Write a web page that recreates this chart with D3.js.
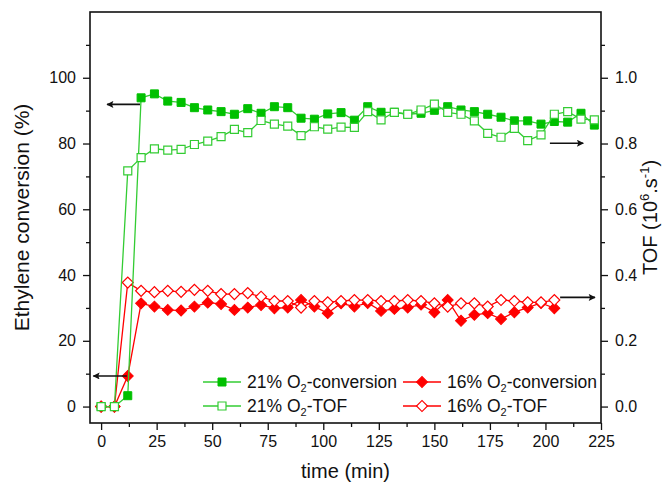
<!DOCTYPE html>
<html>
<head>
<meta charset="utf-8">
<script src="https://cdn.jsdelivr.net/npm/d3@7"></script>
<style>
  body { margin: 0; background: #fff; }
  svg text { font-family: "Liberation Sans", Arial, sans-serif; fill: #111; }
</style>
</head>
<body>
<script>
// time points (min)
var time21 = [0,6,12,18,24,30,36,42,48,54,60,66,72,78,84,90,96,102,108,114,120,126,132,138,144,150,156,162,168,174,180,186,192,198,204,210,216,222];
var time16 = [0,6,12,18,24,30,36,42,48,54,60,66,72,78,84,90,96,102,108,114,120,126,132,138,144,150,156,162,168,174,180,186,192,198,204];

// ethylene conversion (%)
var conv21 = [0,0,3.3,93.9,95.1,92.9,92.5,90.9,90.2,89.7,88.9,90.6,89.2,91.2,90.9,87.7,87.4,89.0,89.4,87.1,91.2,89.5,89.5,88.9,89.2,90.1,91.2,90.2,89.7,88.9,88.0,86.9,86.9,85.9,86.7,86.5,89.2,85.6];
var conv16 = [0,0,9.3,31.4,30.4,29.4,29.2,30.4,31.6,31.2,29.4,30.1,30.9,29.9,30.1,32.4,30.4,28.4,31.4,30.4,31.5,29.1,29.7,30.1,31.0,28.7,32.4,26.1,27.9,28.4,26.6,28.7,30.1,31.5,29.9];

// TOF (10^6 s^-1)
var tof21 = [0,0,0.717,0.757,0.784,0.780,0.782,0.797,0.807,0.821,0.843,0.833,0.870,0.859,0.853,0.824,0.851,0.844,0.850,0.849,0.897,0.872,0.895,0.889,0.902,0.920,0.895,0.889,0.869,0.831,0.819,0.846,0.809,0.826,0.889,0.897,0.874,0.872];
var tof16 = [0,0,0.377,0.352,0.348,0.352,0.349,0.355,0.352,0.342,0.342,0.345,0.334,0.321,0.321,0.301,0.321,0.317,0.321,0.324,0.324,0.321,0.321,0.324,0.321,0.314,0.304,0.314,0.314,0.304,0.324,0.321,0.317,0.317,0.324];

var xTicks = [0,25,50,75,100,125,150,175,200,225];
var yTicks = [0,20,40,60,80,100];
var y2Ticks = [0,0.2,0.4,0.6,0.8,1.0];

var W = 668, H = 488;
var pL = 90, pR = 601, pT = 12, pB = 423;

var green = "#00c000", greenLight = "#33cc33", red = "#ff0000";

var svg = d3.select("body").append("svg")
    .attr("width", W)
    .attr("height", H);

var x = d3.scaleLinear().domain([-5, 225]).range([pL, pR]);
var y = d3.scaleLinear().domain([-5, 120]).range([pB, pT]);
var y2 = d3.scaleLinear().domain([-0.05, 1.2]).range([pB, pT]);

svg.append("rect")
    .attr("x", pL).attr("y", pT)
    .attr("width", pR - pL).attr("height", pB - pT)
    .attr("fill", "#fff");

// axes
var minorX = d3.range(12.5, 225, 25);
var minorY = d3.range(10, 120, 20);
var minorY2 = d3.range(0.1, 1.2, 0.2);

function styleAxis(g) {
    g.select(".domain").remove();
    g.selectAll("line").attr("stroke", "#111").attr("stroke-width", 1.3);
    g.selectAll("text").attr("font-size", 16).attr("fill", "#111")
        .attr("font-family", "'Liberation Sans', Arial, sans-serif");
}

svg.append("g").attr("transform", "translate(0," + pB + ")")
    .call(d3.axisBottom(x).tickValues(minorX).tickSize(4).tickFormat(""))
    .call(styleAxis);
svg.append("g").attr("transform", "translate(0," + pB + ")")
    .call(d3.axisBottom(x).tickValues(xTicks).tickSize(7).tickPadding(6).tickFormat(d3.format("d")))
    .call(styleAxis);

svg.append("g").attr("transform", "translate(" + pL + ",0)")
    .call(d3.axisLeft(y).tickValues(minorY).tickSize(4).tickFormat(""))
    .call(styleAxis);
svg.append("g").attr("transform", "translate(" + pL + ",0)")
    .call(d3.axisLeft(y).tickValues(yTicks).tickSize(7).tickPadding(7).tickFormat(d3.format("d")))
    .call(styleAxis);

svg.append("g").attr("transform", "translate(" + pR + ",0)")
    .call(d3.axisRight(y2).tickValues(minorY2).tickSize(4).tickFormat(""))
    .call(styleAxis);
svg.append("g").attr("transform", "translate(" + pR + ",0)")
    .call(d3.axisRight(y2).tickValues(y2Ticks).tickSize(7).tickPadding(7).tickFormat(d3.format(".1f")))
    .call(styleAxis);

// frame
svg.append("rect")
    .attr("x", pL).attr("y", pT)
    .attr("width", pR - pL).attr("height", pB - pT)
    .attr("fill", "none").attr("stroke", "#111").attr("stroke-width", 1.6);

// series
var sq = d3.symbol().type(d3.symbolSquare).size(64);
var dia = d3.symbol().type(d3.symbolSquare).size(60);

function drawSeries(times, vals, yScale, color, lineColor, shape, filled, rot) {
    var pts = times.map(function(t, i) { return [x(t), yScale(vals[i])]; });
    svg.append("path")
        .attr("d", d3.line()(pts))
        .attr("fill", "none")
        .attr("stroke", lineColor)
        .attr("stroke-width", 1.3);
    svg.append("g").selectAll("path")
        .data(pts)
        .enter().append("path")
        .attr("d", shape)
        .attr("transform", function(d) { return "translate(" + d[0] + "," + d[1] + ") rotate(" + rot + ")"; })
        .attr("fill", filled ? color : "#fff")
        .attr("stroke", color)
        .attr("stroke-width", filled ? 1 : 1.2);
}

drawSeries(time16, conv16, y, red, red, dia, true, 45);
drawSeries(time16, tof16, y2, red, red, dia, false, 45);
drawSeries(time21, conv21, y, green, greenLight, sq, true, 0);
drawSeries(time21, tof21, y2, greenLight, greenLight, sq, false, 0);

// arrows pointing at the axis each series belongs to
svg.append("defs").append("marker")
    .attr("id", "head")
    .attr("viewBox", "0 0 10 10")
    .attr("refX", 9).attr("refY", 5)
    .attr("markerWidth", 11).attr("markerHeight", 7)
    .attr("markerUnits", "userSpaceOnUse")
    .attr("orient", "auto")
    .append("path")
    .attr("d", "M0,0 L10,5 L0,10 L2,5 z")
    .attr("fill", "#111");

var arrows = [
    {x1: 17.5, x2: 2.7, v: 91.9, s: y},
    {x1: 11.6, x2: -3.5, v: 9.3, s: y},
    {x1: 202, x2: 217, v: 0.801, s: y2},
    {x1: 206.6, x2: 222.3, v: 0.332, s: y2}
];
svg.append("g").selectAll("line")
    .data(arrows)
    .enter().append("line")
    .attr("x1", function(d) { return x(d.x1); })
    .attr("x2", function(d) { return x(d.x2); })
    .attr("y1", function(d) { return d.s(d.v); })
    .attr("y2", function(d) { return d.s(d.v); })
    .attr("stroke", "#111")
    .attr("stroke-width", 1.6)
    .attr("marker-end", "url(#head)");

// legend
var legend = [
    {lx: 203, ly: 382, color: green, lc: greenLight, shape: sq, filled: true, rot: 0, pct: "21% O", tail: "-conversion"},
    {lx: 203, ly: 406, color: greenLight, lc: greenLight, shape: sq, filled: false, rot: 0, pct: "21% O", tail: "-TOF"},
    {lx: 403, ly: 382, color: red, lc: red, shape: dia, filled: true, rot: 45, pct: "16% O", tail: "-conversion"},
    {lx: 403, ly: 406, color: red, lc: red, shape: dia, filled: false, rot: 45, pct: "16% O", tail: "-TOF"}
];
legend.forEach(function(d) {
    var g = svg.append("g").attr("transform", "translate(" + d.lx + "," + d.ly + ")");
    g.append("line").attr("x1", 0).attr("x2", 38).attr("stroke", d.lc).attr("stroke-width", 1.3);
    g.append("path").attr("d", d.shape)
        .attr("transform", "translate(19,0) rotate(" + d.rot + ")")
        .attr("fill", d.filled ? d.color : "#fff")
        .attr("stroke", d.color).attr("stroke-width", d.filled ? 1 : 1.2);
    var t = g.append("text").attr("x", 44).attr("y", 6).attr("font-size", 17.5);
    t.append("tspan").text(d.pct);
    t.append("tspan").attr("font-size", 11).attr("dy", 4).text("2");
    t.append("tspan").attr("dy", -4).text(d.tail);
});

// axis titles
svg.append("text")
    .attr("x", (pL + pR) / 2).attr("y", 478)
    .attr("text-anchor", "middle").attr("font-size", 20)
    .text("time (min)");

svg.append("text")
    .attr("transform", "translate(29," + (pT + pB) / 2 + ") rotate(-90)")
    .attr("text-anchor", "middle").attr("font-size", 21)
    .text("Ethylene conversion (%)");

var tt = svg.append("text")
    .attr("transform", "translate(657," + (pT + pB) / 2 + ") rotate(-90)")
    .attr("text-anchor", "middle").attr("font-size", 20);
tt.append("tspan").text("TOF (10");
tt.append("tspan").attr("font-size", 13).attr("dy", -8).text("6");
tt.append("tspan").attr("dy", 8).text(".s");
tt.append("tspan").attr("font-size", 13).attr("dy", -8).text("-1");
tt.append("tspan").attr("dy", 8).text(")");
</script>
</body>
</html>
